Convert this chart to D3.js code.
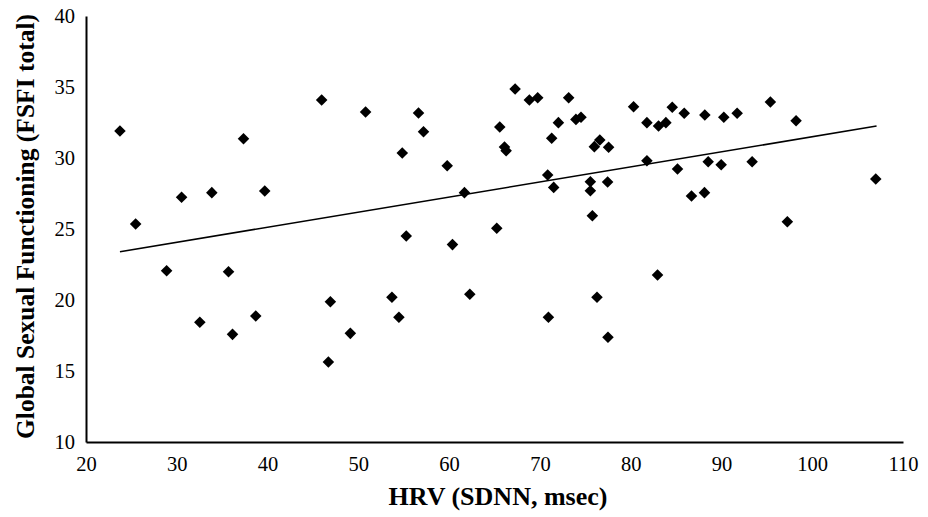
<!DOCTYPE html>
<html><head><meta charset="utf-8">
<script src="https://cdn.jsdelivr.net/npm/d3@7"></script>
<style>html,body{margin:0;padding:0;background:#fff;}svg{display:block;}</style>
</head><body>
<svg id="chart" width="928" height="517"></svg>
<script>
const hrv = [23.74,25.47,30.53,33.86,37.35,39.69,45.96,50.8,56.63,57.18,54.84,59.79,61.69,65.58,66.1,66.28,67.27,68.84,69.76,73.17,72.04,71.3,73.97,74.53,76.0,76.6,77.57,70.86,71.52,75.56,75.56,77.46,75.78,65.25,55.28,80.32,81.79,83.07,83.88,84.58,85.9,88.17,90.26,91.73,95.39,98.22,81.79,85.16,88.54,89.97,93.38,86.7,88.13,107.0,97.26,28.88,35.7,32.54,36.14,38.7,60.37,46.92,49.12,46.7,53.7,54.47,62.28,70.94,76.29,77.5,82.96];
const fsfi = [31.9,25.35,27.23,27.56,31.36,27.68,34.08,33.24,33.17,31.85,30.35,29.46,27.56,32.18,30.77,30.51,34.86,34.08,34.25,34.25,32.49,31.39,32.72,32.87,30.8,31.27,30.75,28.8,27.93,28.33,27.7,28.31,25.94,25.05,24.5,33.61,32.49,32.25,32.49,33.57,33.15,33.03,32.87,33.15,33.94,32.63,29.81,29.23,29.74,29.53,29.74,27.32,27.56,28.52,25.51,22.06,21.99,18.43,17.58,18.87,23.9,19.88,17.65,15.63,20.19,18.78,20.4,18.78,20.19,17.37,21.76];
const xTicks = [20,30,40,50,60,70,80,90,100,110];
const yTicks = [10,15,20,25,30,35,40];
const trendX = [23.74,107.09];
const trendY = [23.40,32.25];
const xTitle = "HRV (SDNN, msec)";
const yTitle = "Global Sexual Functioning (FSFI total)";

const svg = d3.select("#chart");
const x = d3.scaleLinear().domain([20,110]).range([86,903]);
const y = d3.scaleLinear().domain([10,40]).range([442,16]);
const font = "'Liberation Serif','Times New Roman',serif";

const xa = svg.append("g").attr("transform","translate(0,442)")
  .call(d3.axisBottom(x).tickValues(xTicks).tickSize(0).tickPadding(14).tickFormat(d3.format("d")));
xa.select(".domain").attr("stroke","#000").attr("stroke-width",2);
xa.selectAll("text").attr("font-family",font).attr("font-size",20.5).attr("fill","#000");

const ya = svg.append("g").attr("transform","translate(86,0)")
  .call(d3.axisLeft(y).tickValues(yTicks).tickSize(0).tickPadding(11).tickFormat(d3.format("d")));
ya.select(".domain").attr("stroke","#000").attr("stroke-width",2);
ya.selectAll("text").attr("font-family",font).attr("font-size",20.5).attr("fill","#000");

svg.append("line")
  .attr("x1",x(trendX[0])).attr("y1",y(trendY[0]))
  .attr("x2",x(trendX[1])).attr("y2",y(trendY[1]))
  .attr("stroke","#000").attr("stroke-width",1.6);

const sym = d3.symbol().type(d3.symbolDiamond2).size(85);
svg.append("g").selectAll("path").data(hrv.map((v,i)=>[v,fsfi[i]])).join("path")
  .attr("d",sym)
  .attr("transform",d=>`translate(${x(d[0])},${y(d[1])})`)
  .attr("fill","#000");

svg.append("text").attr("x",498).attr("y",505)
  .attr("text-anchor","middle").attr("font-family",font).attr("font-weight","bold")
  .attr("font-size",26).text(xTitle);
svg.append("text").attr("transform",`translate(34,226.5) rotate(-90)`)
  .attr("text-anchor","middle").attr("font-family",font).attr("font-weight","bold")
  .attr("font-size",25.5).text(yTitle);
</script>
</body></html>
